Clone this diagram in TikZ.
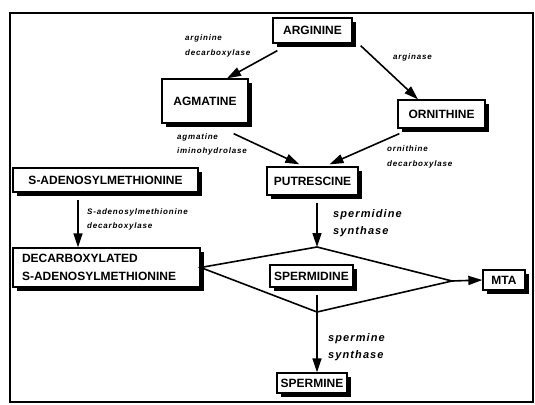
\documentclass[tikz,border=0pt]{standalone}
\usepackage{fontspec}
\setmainfont{Liberation Sans}
\newfontfamily\labfont[LetterSpace=10]{Liberation Sans}
\usetikzlibrary{arrows.meta,shadows}
\begin{document}
\begin{tikzpicture}[x=1pt,y=-1pt,
 box/.style={draw=black, line width=1.3pt, fill=white, inner sep=0pt,
   font=\bfseries\fontsize{12}{18}\selectfont,
   drop shadow={shadow xshift=4pt, shadow yshift=-4pt, fill=black, opacity=1}},
 arr/.style={line width=1.6pt, -{Triangle[length=14pt,width=9pt]}},
 lab/.style={anchor=west, inner sep=0pt, align=left,
   font=\labfont\bfseries\itshape\fontsize{8}{14.5}\selectfont},
 biglab/.style={anchor=west, inner sep=0pt, align=left,
   font=\labfont\bfseries\itshape\fontsize{11}{17}\selectfont},
 edge line/.style={line width=1.6pt, line join=miter}]
\useasboundingbox (0,0) rectangle (535,404);
\draw[line width=1.2pt] (10,13) rectangle (533,402);

\node[box, minimum width=79pt, minimum height=25pt] (arg) at (312.5,30.5) {ARGININE};
\node[box, minimum width=86pt, minimum height=44pt] (agm) at (205,101) {AGMATINE};
\node[box, minimum width=87pt, minimum height=28pt] (orn) at (441.5,114) {ORNITHINE};
\node[box, minimum width=91pt, minimum height=28pt] (put) at (312.5,181) {PUTRESCINE};
\node[box, minimum width=185pt, minimum height=24pt] (sam) at (105.5,180) {S-ADENOSYLMETHIONINE};
\node[box, text width=169pt, inner xsep=9pt, minimum height=39pt, align=left] (dec) at (106.5,267.5) {DECARBOXYLATED\\S-ADENOSYLMETHIONINE};
\node[box, minimum width=83pt, minimum height=22pt] (spd) at (311.5,276) {SPERMIDINE};
\node[box, minimum width=42pt, minimum height=20pt] (mta) at (504,280) {MTA};
\node[box, minimum width=70pt, minimum height=20pt] (spm) at (312,383) {SPERMINE};

\coordinate (dtop) at (317,247);
\coordinate (dright) at (452,281);
\coordinate (dbot) at (317,312);
\coordinate (samx) at (78,0);

\draw[edge line] (dec.east) -- (dtop) -- (dright) -- (dbot) -- cycle;
\draw[arr] (dright) -- (mta.west);

\draw[arr] ([shift={(5,7)}]arg.south west) -- ([shift={(22,0)}]agm.north);
\draw[arr] ([shift={(8,2)}]arg.south east) -- ([shift={(-23.5,0)}]orn.north);
\draw[arr] ([shift={(-15,10)}]agm.south east) -- ([shift={(33,-2)}]put.north west);
\draw[arr] ([shift={(2,5)}]orn.south west) -- ([shift={(17,-2)}]put.north);
\draw[arr, shorten <=7pt] (put.south -| dtop) -- (dtop);
\draw[arr, shorten <=7pt] (spd.south -| dtop) -- (spm.north -| dtop);
\draw[arr, shorten <=7pt] (sam.south -| samx) -- (dec.north -| samx);

\node[lab] (l1) at (185,46) {arginine\\decarboxylase};
\node[lab] (l2) at (393,57) {arginase};
\node[lab] (l3) at (177,144.5) {agmatine\\iminohydrolase};
\node[lab] (l4) at (387,157) {ornithine\\decarboxylase};
\node[lab] (l5) at (87,219.5) {S-adenosylmethionine\\decarboxylase};
\node[biglab] (l6) at (333,223.5) {spermidine\\synthase};
\node[biglab] (l7) at (328,347.5) {spermine\\synthase};
\end{tikzpicture}
\end{document}
